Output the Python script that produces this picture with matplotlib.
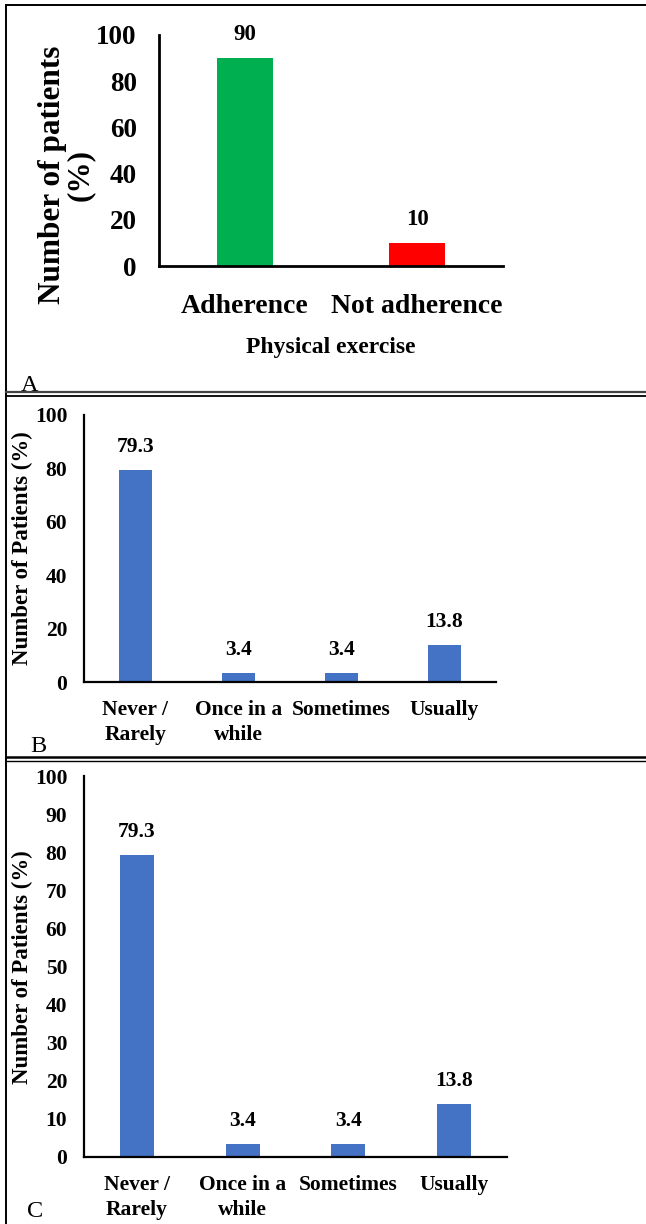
import matplotlib
matplotlib.use("Agg")
import matplotlib.pyplot as plt

# ---------------- data ----------------
a_categories = ["Adherence", "Not adherence"]
a_values = [90, 10]
a_colors = ["#00B050", "#FF0000"]
a_yticks = [0, 20, 40, 60, 80, 100]

b_categories = ["Never /\nRarely", "Once in a\nwhile", "Sometimes", "Usually"]
b_values = [79.3, 3.4, 3.4, 13.8]
b_yticks = [0, 20, 40, 60, 80, 100]

c_categories = ["Never /\nRarely", "Once in a\nwhile", "Sometimes", "Usually"]
c_values = [79.3, 3.4, 3.4, 13.8]
c_yticks = [0, 10, 20, 30, 40, 50, 60, 70, 80, 90, 100]

BLUE = "#4472C4"

plt.rcParams['font.family'] = ['Liberation Serif', 'DejaVu Serif']
plt.rcParams['font.weight'] = 'bold'

W, H = 646, 1224
fig = plt.figure(figsize=(W / 100, H / 100), dpi=100)


def px_axes(left, top, right, bottom):
    return fig.add_axes([left / W, 1 - bottom / H, (right - left) / W, (bottom - top) / H])


def style(ax, lw):
    for s in ["top", "right"]:
        ax.spines[s].set_visible(False)
    for s in ["left", "bottom"]:
        ax.spines[s].set_linewidth(lw)
        ax.spines[s].set_color("black")
    ax.tick_params(length=0)


# ---------------- panel A ----------------
axA = px_axes(159, 35, 503, 266)
xa = range(len(a_categories))
axA.bar(xa, a_values, width=0.32, color=a_colors)
axA.set_xlim(-0.5, len(a_categories) - 0.5)
axA.set_ylim(0, 100)
axA.set_yticks(a_yticks)
axA.set_yticklabels([str(t) for t in a_yticks], fontsize=19.5, fontweight='bold')
axA.set_xticks(list(xa))
axA.set_xticklabels(a_categories, fontsize=20, fontweight='bold')
axA.tick_params(axis='y', pad=16)
axA.tick_params(axis='x', pad=20)
style(axA, 2)
for x, v in zip(xa, a_values):
    axA.annotate(f"{v:g}", (x, v), xytext=(0, 13), textcoords='offset points',
                 ha='center', va='baseline', fontsize=16.5, fontweight='bold')
axA.set_xlabel("Physical exercise", fontsize=17, fontweight='bold', labelpad=13)
fig.text(66 / W, 1 - 175 / H, "Number of patients\n(%)", rotation=90, ha='center',
         va='center', multialignment='center', fontsize=22.5, fontweight='bold',
         linespacing=0.95)


def panel(ax, cats, vals, ticks):
    x = range(len(cats))
    ax.bar(x, vals, width=0.32, color=BLUE)
    ax.set_xlim(-0.5, len(cats) - 0.5)
    ax.set_ylim(0, 100)
    ax.set_yticks(ticks)
    ax.set_yticklabels([str(t) for t in ticks], fontsize=15.5, fontweight='bold')
    ax.set_xticks(list(x))
    ax.set_xticklabels(cats, fontsize=15.5, fontweight='bold', linespacing=1.3)
    ax.tick_params(axis='y', pad=12)
    ax.tick_params(axis='x', pad=13)
    style(ax, 1.6)
    for xi, v in zip(x, vals):
        ax.annotate(f"{v:g}", (xi, v), xytext=(0, 13), textcoords='offset points',
                    ha='center', va='baseline', fontsize=15.5, fontweight='bold')


# ---------------- panel B ----------------
axB = px_axes(84, 415, 496, 682)
panel(axB, b_categories, b_values, b_yticks)
fig.text(22 / W, 1 - 548 / H, "Number of Patients (%)", rotation=90, ha='center',
         va='center', fontsize=16.5, fontweight='bold')

# ---------------- panel C ----------------
axC = px_axes(84, 776, 507, 1157)
panel(axC, c_categories, c_values, c_yticks)
fig.text(22 / W, 1 - 967 / H, "Number of Patients (%)", rotation=90, ha='center',
         va='center', fontsize=16.5, fontweight='bold')

# ---------------- panel frames & letters ----------------
ov = fig.add_axes([0, 0, 1, 1], zorder=-1)
ov.set_xlim(0, W)
ov.set_ylim(H, 0)
ov.axis('off')
ov.plot([6, W], [4.5, 4.5], color='black', lw=1.4)
ov.plot([6, 6], [4.5, H], color='black', lw=1.4)
ov.plot([6, W], [392.3, 392.3], color='#444444', lw=1.6)
ov.plot([6, W], [396, 396], color='black', lw=1.3)
ov.plot([6, W], [756.7, 756.7], color='black', lw=1.8)
ov.plot([6, W], [760.5, 760.5], color='black', lw=1.0)

for lbl, (x, y) in {"A": (21, 391), "B": (30, 752), "C": (27, 1217)}.items():
    fig.text(x / W, 1 - y / H, lbl, ha='left', va='baseline', fontsize=17.5,
             fontweight='normal')

fig.savefig("out.png", dpi=100)
